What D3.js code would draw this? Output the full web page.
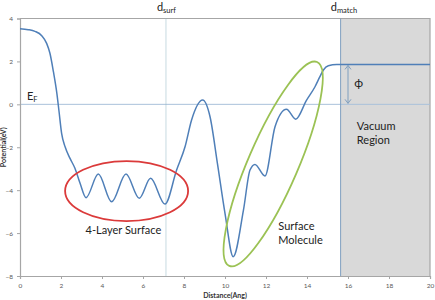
<!DOCTYPE html>
<html>
<head>
<meta charset="utf-8">
<script src="https://cdn.jsdelivr.net/npm/d3@7"></script>
<style>
  body { margin: 0; background: #fff; }
  text { font-family: Lato, "Open Sans", sans-serif; }
</style>
</head>
<body>
<div id="chart"></div>
<script>
// potential profile
var distance = [0, 0.4, 0.73, 1.06, 1.3, 1.46, 1.63, 1.8, 1.9, 2.03, 2.2, 2.44, 2.68, 2.93, 3.22,
  3.82, 4.47, 5.17, 5.82, 6.37, 7.07, 7.64, 8.05, 8.37, 8.91, 9.27, 9.63, 10.0, 10.4,
  10.9, 11.22, 11.46, 11.95, 12.44, 13.0, 13.45, 13.98, 14.39, 14.63, 14.8, 15.04, 15.45, 20]
var potential = [3.52, 3.48, 3.4, 3.2, 2.84, 2.38, 1.52, 0.5, -0.3, -1.35, -1.98, -2.52, -2.98, -3.68, -4.35,
  -3.25, -4.54, -3.25, -4.38, -3.45, -4.65, -3.06, -1.98, -0.73, 0.2, -0.58, -2.75, -5.08, -7.1,
  -4.93, -3.06, -2.8, -3.34, -1.04, -0.23, -0.69, 0.2, 0.82, 1.29, 1.6, 1.8, 1.86, 1.86]

var xTicks = [0, 2, 4, 6, 8, 10, 12, 14, 16, 18, 20]
var yTicks = [-8, -6, -4, -2, 0, 2, 4]

var dSurf = 7.12
var dMatch = 15.64
var vacuumLevel = 1.86
var phiAt = 16.0

var margin = {top: 18.5, right: 5, bottom: 24, left: 20},
    width = 435 - margin.left - margin.right,
    height = 300 - margin.top - margin.bottom;

var svg = d3.select("#chart")
  .append("svg")
    .attr("width", 435)
    .attr("height", 300)
  .append("g")
    .attr("transform", "translate(" + margin.left + "," + margin.top + ")");

var x = d3.scaleLinear().domain([0, 20]).range([0, width])
var y = d3.scaleLinear().domain([-8, 4]).range([height, 0])

// vacuum region
svg.append("rect")
  .attr("x", x(dMatch)).attr("y", y(4))
  .attr("width", x(20) - x(dMatch)).attr("height", y(-8) - y(4))
  .attr("fill", "#d9d9d9")

// top and right border of plot
svg.append("path")
  .attr("d", "M" + x(0) + "," + y(4) + "H" + x(20) + "V" + y(-8))
  .attr("fill", "none").attr("stroke", "#a6a6a6").attr("stroke-width", 1.2)

// zero line (E_F)
svg.append("line")
  .attr("x1", x(0)).attr("x2", x(20)).attr("y1", y(0)).attr("y2", y(0))
  .attr("stroke", "#a9c1da").attr("stroke-width", 1)

// d_surf dotted line
svg.append("line")
  .attr("x1", x(dSurf)).attr("x2", x(dSurf)).attr("y1", y(4)).attr("y2", y(-8))
  .attr("stroke", "#8fb5c2").attr("stroke-width", 1).attr("stroke-dasharray", "1,1")

// d_match line
svg.append("line")
  .attr("x1", x(dMatch)).attr("x2", x(dMatch)).attr("y1", y(4)).attr("y2", y(-8))
  .attr("stroke", "#7f9fbf").attr("stroke-width", 1)

// axes
var xAxis = svg.append("g")
  .attr("transform", "translate(0," + height + ")")
  .call(d3.axisBottom(x).tickValues(xTicks).tickSize(3).tickPadding(4))
var yAxis = svg.append("g")
  .call(d3.axisLeft(y).tickValues(yTicks).tickSize(3).tickPadding(4))
;[xAxis, yAxis].forEach(function(a){
  a.select(".domain").attr("stroke", "#a6a6a6").attr("stroke-width", 1.2)
  a.selectAll(".tick line").attr("stroke", "#a6a6a6")
  a.selectAll(".tick text").attr("fill", "#595959").style("font-size", "6.5px")
    .style("font-family", "Lato, sans-serif")
})

// curve
var pts = distance.map(function(d, i){ return [d, potential[i]] })
svg.append("path")
  .datum(pts)
  .attr("fill", "none")
  .attr("stroke", "#4f7fb8")
  .attr("stroke-width", 1.5)
  .attr("d", d3.line()
    .x(function(d){ return x(d[0]) })
    .y(function(d){ return y(d[1]) })
    .curve(d3.curveMonotoneX))

// red ellipse round the 4 layers
svg.append("ellipse")
  .attr("cx", x(5.2)).attr("cy", y(-4.04))
  .attr("rx", 61.5).attr("ry", 30)
  .attr("fill", "none").attr("stroke", "#db3a3a").attr("stroke-width", 1.8)

// green ellipse round the molecule
var gx = x(12.35), gy = y(-2.78)
svg.append("ellipse")
  .attr("cx", 0).attr("cy", 0)
  .attr("rx", 111).attr("ry", 25)
  .attr("transform", "translate(" + gx + "," + gy + ") rotate(-66.7)")
  .attr("fill", "none").attr("stroke", "#9bc254").attr("stroke-width", 1.8)

// phi arrow
var ax = x(phiAt), ay1 = y(vacuumLevel), ay2 = y(0)
svg.append("path")
  .attr("d", "M" + ax + "," + (ay1 + 1) + "V" + (ay2 - 1) +
    "M" + (ax - 3) + "," + (ay1 + 5) + "L" + ax + "," + (ay1 + 1) + "L" + (ax + 3) + "," + (ay1 + 5) +
    "M" + (ax - 3) + "," + (ay2 - 5) + "L" + ax + "," + (ay2 - 1) + "L" + (ax + 3) + "," + (ay2 - 5))
  .attr("fill", "none").attr("stroke", "#7f9fbf").attr("stroke-width", 1)

// labels
function sub(g, main, s, px, py){
  var t = g.append("text").attr("x", px).attr("y", py).attr("fill", "#222").style("font-size", "11px")
  t.append("tspan").text(main)
  t.append("tspan").attr("dy", 2).style("font-size", "7.5px").text(s)
}
sub(svg, "d", "surf", x(6.68), -7.5)
sub(svg, "d", "match", x(15.16), -7.5)
sub(svg, "E", "F", x(0.34), y(0.2))

svg.append("text").attr("x", x(16.3)).attr("y", y(0.82)).attr("fill", "#222")
  .style("font-size", "12px").text("ϕ")

var notes = [
  {t: "4-Layer Surface", x: 3.2, y: -6.05},
  {t: "Surface", x: 12.6, y: -5.85},
  {t: "Molecule", x: 12.6, y: -6.5},
  {t: "Vacuum", x: 16.43, y: -1.2},
  {t: "Region", x: 16.43, y: -1.83}
]
svg.selectAll(".note").data(notes).enter().append("text")
  .attr("class", "note")
  .attr("x", function(d){ return x(d.x) })
  .attr("y", function(d){ return y(d.y) })
  .attr("fill", "#222").style("font-size", "11px")
  .text(function(d){ return d.t })

// axis titles
svg.append("text")
  .attr("x", width / 2).attr("y", height + 22)
  .attr("text-anchor", "middle").attr("fill", "#333")
  .style("font-size", "7px").style("font-weight", "bold")
  .text("Distance(Ang)")
svg.append("text")
  .attr("transform", "translate(" + (-14) + "," + (y(-2)) + ") rotate(-90)")
  .attr("text-anchor", "middle").attr("fill", "#333")
  .style("font-size", "7px").style("font-weight", "bold")
  .text("Potential(eV)")
</script>
</body>
</html>
